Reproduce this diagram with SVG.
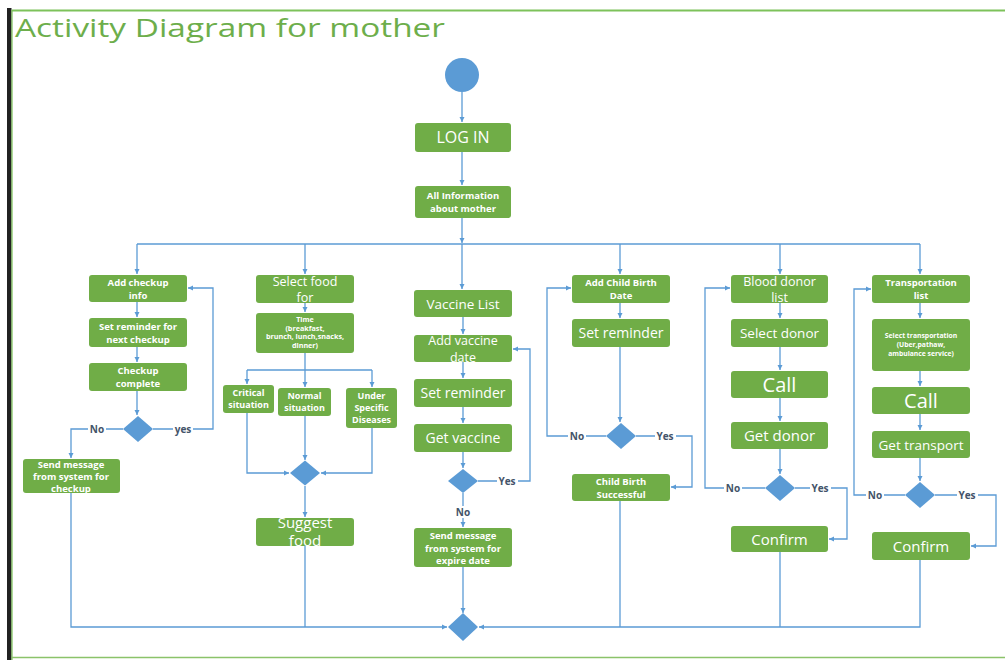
<svg xmlns="http://www.w3.org/2000/svg" width="1005" height="660" viewBox="0 0 1005 660">
<style>
.box{fill:#70AD47}
.t{fill:#ffffff;font-family:"Open Sans","Noto Sans",sans-serif;text-anchor:middle}
.b{font-weight:bold}
.ln{stroke:#5B9BD5;stroke-width:1.3;fill:none}
.dia{fill:#5B9BD5}
.lbl{fill:#44546A;font-family:"Open Sans","Noto Sans",sans-serif;font-size:10px;font-weight:bold;text-anchor:middle}
.lb{fill:#ffffff}
</style>
<defs>
<marker id="ar" markerWidth="6" markerHeight="6" refX="5" refY="3" orient="auto" markerUnits="userSpaceOnUse">
<path d="M0,0.5 L5,3 L0,5.5 z" fill="#5B9BD5"/>
</marker>
</defs>
<rect width="1005" height="660" fill="#ffffff"/>
<g id="frame">
<rect x="7" y="8" width="4.5" height="652" fill="#222222"/>
<line x1="12" y1="10.5" x2="1005" y2="10.5" stroke="#7DC25A" stroke-width="2"/>
<line x1="12" y1="10" x2="12" y2="660" stroke="#7DC25A" stroke-width="1.2"/>
<line x1="12" y1="657.5" x2="1005" y2="657.5" stroke="#8BC36A" stroke-width="1.5"/>
<text x="15" y="37" font-family="'Open Sans','Noto Sans',sans-serif" font-size="25" fill="#6DAE4B" textLength="430" lengthAdjust="spacingAndGlyphs">Activity Diagram for mother</text>
</g>
<g id="connectors">
<path class="ln" d="M462,92 V122" marker-end="url(#ar)"/>
<path class="ln" d="M462,152 V185" marker-end="url(#ar)"/>
<path class="ln" d="M462,218 V243" marker-end="url(#ar)"/>
<path class="ln" d="M137,244 H920"/>
<path class="ln" d="M137,244 V274" marker-end="url(#ar)"/>
<path class="ln" d="M305,244 V274" marker-end="url(#ar)"/>
<path class="ln" d="M462,244 V289" marker-end="url(#ar)"/>
<path class="ln" d="M620,244 V274" marker-end="url(#ar)"/>
<path class="ln" d="M780,244 V274" marker-end="url(#ar)"/>
<path class="ln" d="M920,244 V274" marker-end="url(#ar)"/>
<!-- col1 -->
<path class="ln" d="M137,302 V317" marker-end="url(#ar)"/>
<path class="ln" d="M137,347 V362" marker-end="url(#ar)"/>
<path class="ln" d="M137,391 V415" marker-end="url(#ar)"/>
<path class="ln" d="M123,429 H71 V458" marker-end="url(#ar)"/>
<path class="ln" d="M153,429 H213 V288 H188" marker-end="url(#ar)"/>
<path class="ln" d="M71,493 V627 H447" marker-end="url(#ar)"/>
<!-- col2 -->
<path class="ln" d="M305,303 V312" marker-end="url(#ar)"/>
<path class="ln" d="M305,353 V387" marker-end="url(#ar)"/>
<path class="ln" d="M247,370 H372"/>
<path class="ln" d="M247,370 V384" marker-end="url(#ar)"/>
<path class="ln" d="M372,370 V387" marker-end="url(#ar)"/>
<path class="ln" d="M247,413 V473 H289" marker-end="url(#ar)"/>
<path class="ln" d="M305,416 V460" marker-end="url(#ar)"/>
<path class="ln" d="M372,428 V473 H321" marker-end="url(#ar)"/>
<path class="ln" d="M305,486 V517" marker-end="url(#ar)"/>
<path class="ln" d="M305,546 V627"/>
<!-- col3 -->
<path class="ln" d="M463,317 V334" marker-end="url(#ar)"/>
<path class="ln" d="M463,362 V378" marker-end="url(#ar)"/>
<path class="ln" d="M463,407 V423" marker-end="url(#ar)"/>
<path class="ln" d="M463,452 V468" marker-end="url(#ar)"/>
<path class="ln" d="M478,481 H530 V349 H513" marker-end="url(#ar)"/>
<path class="ln" d="M463,493 V527" marker-end="url(#ar)"/>
<path class="ln" d="M463,567 V613" marker-end="url(#ar)"/>
<!-- col4 -->
<path class="ln" d="M620,303 V318" marker-end="url(#ar)"/>
<path class="ln" d="M620,347 V422" marker-end="url(#ar)"/>
<path class="ln" d="M606,436 H547 V288 H571" marker-end="url(#ar)"/>
<path class="ln" d="M636,436 H692 V487 H671" marker-end="url(#ar)"/>
<path class="ln" d="M620,501 V627"/>
<!-- col5 -->
<path class="ln" d="M780,303 V318" marker-end="url(#ar)"/>
<path class="ln" d="M780,347 V370" marker-end="url(#ar)"/>
<path class="ln" d="M780,398 V421" marker-end="url(#ar)"/>
<path class="ln" d="M780,449 V474" marker-end="url(#ar)"/>
<path class="ln" d="M765,488 H705 V288 H730" marker-end="url(#ar)"/>
<path class="ln" d="M795,488 H847 V539 H829" marker-end="url(#ar)"/>
<path class="ln" d="M780,552 V627"/>
<!-- col6 -->
<path class="ln" d="M920,303 V318" marker-end="url(#ar)"/>
<path class="ln" d="M920,371 V386" marker-end="url(#ar)"/>
<path class="ln" d="M920,414 V430" marker-end="url(#ar)"/>
<path class="ln" d="M920,458 V481" marker-end="url(#ar)"/>
<path class="ln" d="M905,495 H854 V289 H871" marker-end="url(#ar)"/>
<path class="ln" d="M935,495 H996 V546 H971" marker-end="url(#ar)"/>
<path class="ln" d="M920,560 V627 H479" marker-end="url(#ar)"/>
<!-- labels -->
<rect class="lb" x="88" y="423" width="18" height="12"/><text class="lbl" x="97" y="433">No</text>
<rect class="lb" x="173" y="423" width="20" height="12"/><text class="lbl" x="183" y="433">yes</text>
<rect class="lb" x="497" y="475" width="21" height="12"/><text class="lbl" x="507" y="485">Yes</text>
<rect class="lb" x="454" y="506" width="18" height="12"/><text class="lbl" x="463" y="516">No</text>
<rect class="lb" x="568" y="430" width="18" height="12"/><text class="lbl" x="577" y="440">No</text>
<rect class="lb" x="655" y="430" width="21" height="12"/><text class="lbl" x="665" y="440">Yes</text>
<rect class="lb" x="724" y="482" width="18" height="12"/><text class="lbl" x="733" y="492">No</text>
<rect class="lb" x="810" y="482" width="21" height="12"/><text class="lbl" x="820" y="492">Yes</text>
<rect class="lb" x="866" y="489" width="18" height="12"/><text class="lbl" x="875" y="499">No</text>
<rect class="lb" x="957" y="489" width="21" height="12"/><text class="lbl" x="967" y="499">Yes</text>
</g>
<g id="start"><circle cx="462" cy="75" r="17" fill="#5B9BD5"/></g>
<g id="login"><rect class="box" x="415" y="123" width="96" height="29" rx="3"/><text class="t" x="463" y="143" font-size="16">LOG IN</text></g>
<g id="allinfo"><rect class="box" x="415" y="186" width="96" height="32" rx="3"/><text class="t b" font-size="9.5"><tspan x="463" y="199">All Information</tspan><tspan x="463" y="212">about mother</tspan></text></g>
<!-- col1 -->
<g id="addcheckup"><rect class="box" x="89" y="275" width="98" height="27" rx="3"/><text class="t b" font-size="9.5"><tspan x="138" y="286">Add checkup</tspan><tspan x="138" y="299">info</tspan></text></g>
<g id="setreminder1"><rect class="box" x="89" y="318" width="98" height="29" rx="3"/><text class="t b" font-size="9.5"><tspan x="138" y="330">Set reminder for</tspan><tspan x="138" y="343">next checkup</tspan></text></g>
<g id="checkupcomplete"><rect class="box" x="89" y="363" width="98" height="28" rx="3"/><text class="t b" font-size="9.5"><tspan x="138" y="374">Checkup</tspan><tspan x="138" y="387">complete</tspan></text></g>
<g id="dec1"><polygon class="dia" points="138,416 153,429 138,442 123,429"/></g>
<g id="sendmsg1"><rect class="box" x="23" y="459" width="97" height="34" rx="3"/><text class="t b" font-size="9.5"><tspan x="71" y="468">Send message</tspan><tspan x="71" y="480">from system for</tspan><tspan x="71" y="492">checkup</tspan></text></g>
<!-- col2 -->
<g id="selectfood"><rect class="box" x="256" y="275" width="98" height="28" rx="3"/><text class="t" font-size="12.5"><tspan x="305" y="285.5">Select food</tspan><tspan x="305" y="302">for</tspan></text></g>
<g id="time"><rect class="box" x="256" y="313" width="98" height="40" rx="3"/><text class="t b" font-size="7.2"><tspan x="305" y="322">Time</tspan><tspan x="305" y="330.5">(breakfast,</tspan><tspan x="305" y="339">brunch, lunch,snacks,</tspan><tspan x="305" y="347.5">dinner)</tspan></text></g>
<g id="critical"><rect class="box" x="223" y="385" width="51" height="28" rx="3"/><text class="t b" font-size="9"><tspan x="248.5" y="396">Critical</tspan><tspan x="248.5" y="408">situation</tspan></text></g>
<g id="normal"><rect class="box" x="278" y="388" width="53" height="28" rx="3"/><text class="t b" font-size="9"><tspan x="304.5" y="399">Normal</tspan><tspan x="304.5" y="411">situation</tspan></text></g>
<g id="under"><rect class="box" x="346" y="388" width="51" height="40" rx="3"/><text class="t b" font-size="9"><tspan x="371.5" y="399">Under</tspan><tspan x="371.5" y="411">Specific</tspan><tspan x="371.5" y="423">Diseases</tspan></text></g>
<g id="merge2"><polygon class="dia" points="305,460.5 320,473 305,485.5 290,473"/></g>
<g id="suggest"><rect class="box" x="256" y="518" width="98" height="28" rx="3"/><text class="t" font-size="15"><tspan x="305" y="528">Suggest</tspan><tspan x="305" y="546">food</tspan></text></g>
<!-- col3 -->
<g id="vaccinelist"><rect class="box" x="414" y="290" width="98" height="27" rx="3"/><text class="t" font-size="13.5" x="463" y="308.5">Vaccine List</text></g>
<g id="addvaccine"><rect class="box" x="414" y="335" width="98" height="27" rx="3"/><text class="t" font-size="12.5"><tspan x="463" y="345">Add vaccine</tspan><tspan x="463" y="361.5">date</tspan></text></g>
<g id="setreminder3"><rect class="box" x="414" y="379" width="98" height="28" rx="3"/><text class="t" font-size="14" x="463" y="397.5">Set reminder</text></g>
<g id="getvaccine"><rect class="box" x="414" y="424" width="98" height="28" rx="3"/><text class="t" font-size="14" x="463" y="442.5">Get vaccine</text></g>
<g id="dec3"><polygon class="dia" points="463,469 478,481 463,493 448,481"/></g>
<g id="sendmsg3"><rect class="box" x="414" y="528" width="98" height="39" rx="3"/><text class="t b" font-size="9.5"><tspan x="463" y="539">Send message</tspan><tspan x="463" y="551.5">from system for</tspan><tspan x="463" y="564">expire date</tspan></text></g>
<g id="finalmerge"><polygon class="dia" points="463,613 478,627 463,641 448,627"/></g>
<!-- col4 -->
<g id="addchildbirth"><rect class="box" x="572" y="275" width="98" height="28" rx="3"/><text class="t b" font-size="9.5"><tspan x="621" y="286">Add Child Birth</tspan><tspan x="621" y="299">Date</tspan></text></g>
<g id="setreminder4"><rect class="box" x="572" y="319" width="98" height="28" rx="3"/><text class="t" font-size="14" x="621" y="337.5">Set reminder</text></g>
<g id="dec4"><polygon class="dia" points="621,423 636,436 621,449 606,436"/></g>
<g id="childbirthok"><rect class="box" x="572" y="474" width="98" height="27" rx="3"/><text class="t b" font-size="9.5"><tspan x="621" y="485">Child Birth</tspan><tspan x="621" y="497.5">Successful</tspan></text></g>
<!-- col5 -->
<g id="blooddonor"><rect class="box" x="731" y="275" width="97" height="28" rx="3"/><text class="t" font-size="12.5"><tspan x="779.5" y="285.5">Blood donor</tspan><tspan x="779.5" y="302">list</tspan></text></g>
<g id="selectdonor"><rect class="box" x="731" y="319" width="97" height="28" rx="3"/><text class="t" font-size="13.5" x="779.5" y="337.5">Select donor</text></g>
<g id="call5"><rect class="box" x="731" y="371" width="97" height="27" rx="3"/><text class="t" font-size="20" x="779.5" y="391.5">Call</text></g>
<g id="getdonor"><rect class="box" x="731" y="422" width="97" height="27" rx="3"/><text class="t" font-size="15" x="779.5" y="441">Get donor</text></g>
<g id="dec5"><polygon class="dia" points="780,475 795,488 780,501 765,488"/></g>
<g id="confirm5"><rect class="box" x="731" y="526" width="97" height="26" rx="3"/><text class="t" font-size="15" x="779.5" y="544.5">Confirm</text></g>
<!-- col6 -->
<g id="translist"><rect class="box" x="872" y="275" width="98" height="28" rx="3"/><text class="t b" font-size="9.5"><tspan x="921" y="286">Transportation</tspan><tspan x="921" y="299">list</tspan></text></g>
<g id="selecttrans"><rect class="box" x="872" y="319" width="98" height="52" rx="3"/><text class="t b" font-size="6.8"><tspan x="921" y="338">Select transportation</tspan><tspan x="921" y="347">(Uber,pathaw,</tspan><tspan x="921" y="356">ambulance service)</tspan></text></g>
<g id="call6"><rect class="box" x="872" y="387" width="98" height="27" rx="3"/><text class="t" font-size="20" x="921" y="407.5">Call</text></g>
<g id="gettransport"><rect class="box" x="872" y="431" width="98" height="27" rx="3"/><text class="t" font-size="13.5" x="921" y="449.5">Get transport</text></g>
<g id="dec6"><polygon class="dia" points="920,482 935,495 920,508 905,495"/></g>
<g id="confirm6"><rect class="box" x="872" y="532" width="98" height="28" rx="3"/><text class="t" font-size="15" x="921" y="551.5">Confirm</text></g>
</svg>
